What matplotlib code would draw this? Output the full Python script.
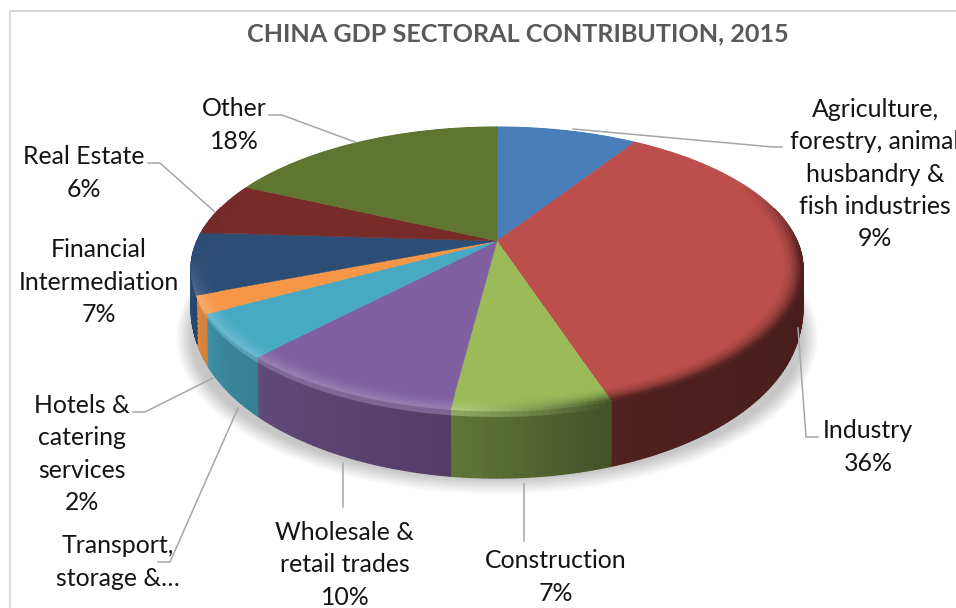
import numpy as np
import matplotlib
matplotlib.use("Agg")
import matplotlib.pyplot as plt
from matplotlib.collections import PolyCollection
from matplotlib.colors import to_rgb

categories = ["Agriculture", "Industry", "Construction", "Wholesale", "Transport",
              "Hotels", "Financial", "Real Estate", "Other"]
shares = [9, 36, 7, 10, 5, 2, 7, 6, 18]
slice_colors = ["#4A7EBB", "#BC4F4B", "#9BBB59", "#8060A0", "#47A9C4",
                "#F79646", "#2C4D75", "#772C2A", "#5F7530"]
label_texts = [
    "Agriculture,\nforestry, animal\nhusbandry &\nfish industries\n9%",
    "Industry\n36%",
    "Construction\n7%",
    "Wholesale &\nretail trades\n10%",
    "Transport,\nstorage &…",
    "Hotels &\ncatering\nservices\n2%",
    "Financial\nIntermediation\n7%",
    "Real Estate\n6%",
    "Other\n18%",
]
label_centers = [(875, 174), (868, 447), (556, 577), (345, 565), (118, 562),
                 (82, 454), (99, 282), (84, 173), (234, 125)]
leaders = [
    [(573, 129), (773, 147), (782, 147)],
    [(798, 328), (806, 437), (818, 437)],
    [(524, 484), (524, 541)],
    [(343, 463), (343, 507)],
    [(238, 408), (170, 562), (158, 562)],
    [(213, 378), (145, 412), (133, 412)],
    [(215, 212), (160, 163), (148, 163)],
    [(355, 142), (282, 115), (269, 115)],
]

# Perspective disc: apex position, horizontal scale, vertical scale, foreshortening
APEX_X, APEX_Y = 497.0, 241.0
SX, SY, K = 300.0, 136.5, 0.197
N_RADIAL, N_WALL = 9, 10
BEVEL_START = 0.93


def project(r, theta):
    u, v = r * np.sin(theta), r * np.cos(theta)
    w = 1 + K * v
    return APEX_X + SX * u / w, APEX_Y - SY * v / w


def wall_depth(theta):
    return 38 + 29 * np.clip(-np.cos(theta), 0, 1)


def mix(a, b, t):
    return tuple(x * (1 - t) + y * t for x, y in zip(a, b))


def wall_shade(theta):
    return np.interp(np.sin(theta), [-1, -0.87, -0.79, -0.19, 0, 0.34, 1],
                     [0.95, 0.85, 0.78, 0.65, 0.58, 0.42, 0.38])


def rim_color(face, theta):
    u, v = np.sin(theta), np.cos(theta)
    wall = tuple(c * wall_shade(theta) for c in face)
    light = mix(face, (1, 1, 1), 0.2 * np.clip((-v - 0.1) / 0.3, 0, 1))
    if v > -0.1:
        light = mix(light, wall, np.clip((v + 0.1) / 0.2, 0, 1))
    return mix(light, wall, np.clip((u + 0.1) / 0.4, 0, 1))


fig = plt.figure(figsize=(9.56, 6.08), dpi=100, facecolor="white")
ax = fig.add_axes([0, 0, 1, 1])
ax.set_xlim(0, 956)
ax.set_ylim(608, 0)
ax.axis("off")

# Chart frame: only the top and left edges fall inside the canvas
ax.plot([10, 10, 956], [608, 11, 11], color="#D9D9D9", lw=1.5, solid_capstyle="butt")

# Soft drop shadow built from stacked translucent discs
disc = np.linspace(0, 2 * np.pi, 361)
for grow in np.linspace(15, 0, 14):
    x, y = project(1.0, disc)
    xc, yc = x - APEX_X, y - 267
    scale_x = (306 + grow) / 306
    scale_y = (141 + grow) / 141
    ax.fill(APEX_X + xc * scale_x, 267 + 67 + 1 + yc * scale_y,
            color="black", alpha=0.016, lw=0, zorder=1)

edges = np.radians(np.cumsum([0] + shares) / sum(shares) * 360)

# Side walls, skipping the part of the rim hidden behind the top face
for start, stop, color in zip(edges[:-1], edges[1:], slice_colors):
    face = to_rgb(color)
    steps = max(2, int(np.degrees(stop - start)))
    thetas = np.linspace(start, stop, steps + 1)
    quads, fills = [], []
    for a, b in zip(thetas[:-1], thetas[1:]):
        mid = (a + b) / 2
        if np.cos(mid) > 0.25:
            continue
        xa, ya = project(1.0, a)
        xb, yb = project(1.0, b)
        da, db = wall_depth(a), wall_depth(b)
        rim = rim_color(face, mid)
        wall = tuple(c * wall_shade(mid) for c in face)
        fade = np.linspace(0, 1, N_WALL + 1)
        for f0, f1 in zip(fade[:-1], fade[1:]):
            quads.append([(xa, ya + da * f0), (xb, yb + db * f0),
                          (xb * (1 - 0.004 * f1) + APEX_X * 0.004 * f1, yb + db * f1),
                          (xa * (1 - 0.004 * f1) + APEX_X * 0.004 * f1, ya + da * f1)])
            fills.append(mix(rim, wall, min(1.0, (f0 + f1) / 2 / 0.12)))
    if quads:
        ax.add_collection(PolyCollection(quads, facecolors=fills, edgecolors=fills,
                                         linewidths=1.0, zorder=2))

# Top face of each slice with a bevel that fades in towards the viewer
for start, stop, color in zip(edges[:-1], edges[1:], slice_colors):
    face = to_rgb(color)
    thetas = np.linspace(start, stop, max(2, int(np.degrees(stop - start))) + 1)
    xo, yo = project(BEVEL_START + 0.002, thetas)
    ax.fill(np.r_[APEX_X, xo], np.r_[APEX_Y, yo], color=color, lw=0.3, zorder=3)
    radii = np.linspace(BEVEL_START, 1.0, N_RADIAL + 1)
    quads, fills = [], []
    for a, b in zip(thetas[:-1], thetas[1:]):
        mid = (a + b) / 2
        strength = np.clip((0.45 - np.cos(mid)) / 0.55, 0, 1)
        rim = rim_color(face, mid)
        for r0, r1 in zip(radii[:-1], radii[1:]):
            xa0, ya0 = project(r0, a)
            xb0, yb0 = project(r0, b)
            xa1, ya1 = project(r1, a)
            xb1, yb1 = project(r1, b)
            quads.append([(xa0, ya0), (xb0, yb0), (xb1, yb1), (xa1, ya1)])
            t = ((r0 + r1) / 2 - BEVEL_START) / (1 - BEVEL_START)
            fills.append(mix(face, rim, strength * t ** 2))
    ax.add_collection(PolyCollection(quads, facecolors=fills, edgecolors=fills,
                                     linewidths=0.7, zorder=3))

# Leader lines from the labels to their slices
for path in leaders:
    xs, ys = zip(*path)
    ax.plot(xs, ys, color="#A6A6A6", lw=1.1, zorder=4, solid_joinstyle="miter")

for text, (cx, cy) in zip(label_texts, label_centers):
    ax.text(cx, cy, text, ha="center", va="center", ma="center", family="Lato",
            fontsize=17.9, linespacing=1.48, color="#141414", zorder=5)

ax.text(518, 34, "CHINA GDP SECTORAL CONTRIBUTION, 2015", ha="center", va="center",
        family="Lato", fontweight="bold", fontsize=18.1, color="#595959", zorder=5)

fig.savefig("out.png", dpi=100)
